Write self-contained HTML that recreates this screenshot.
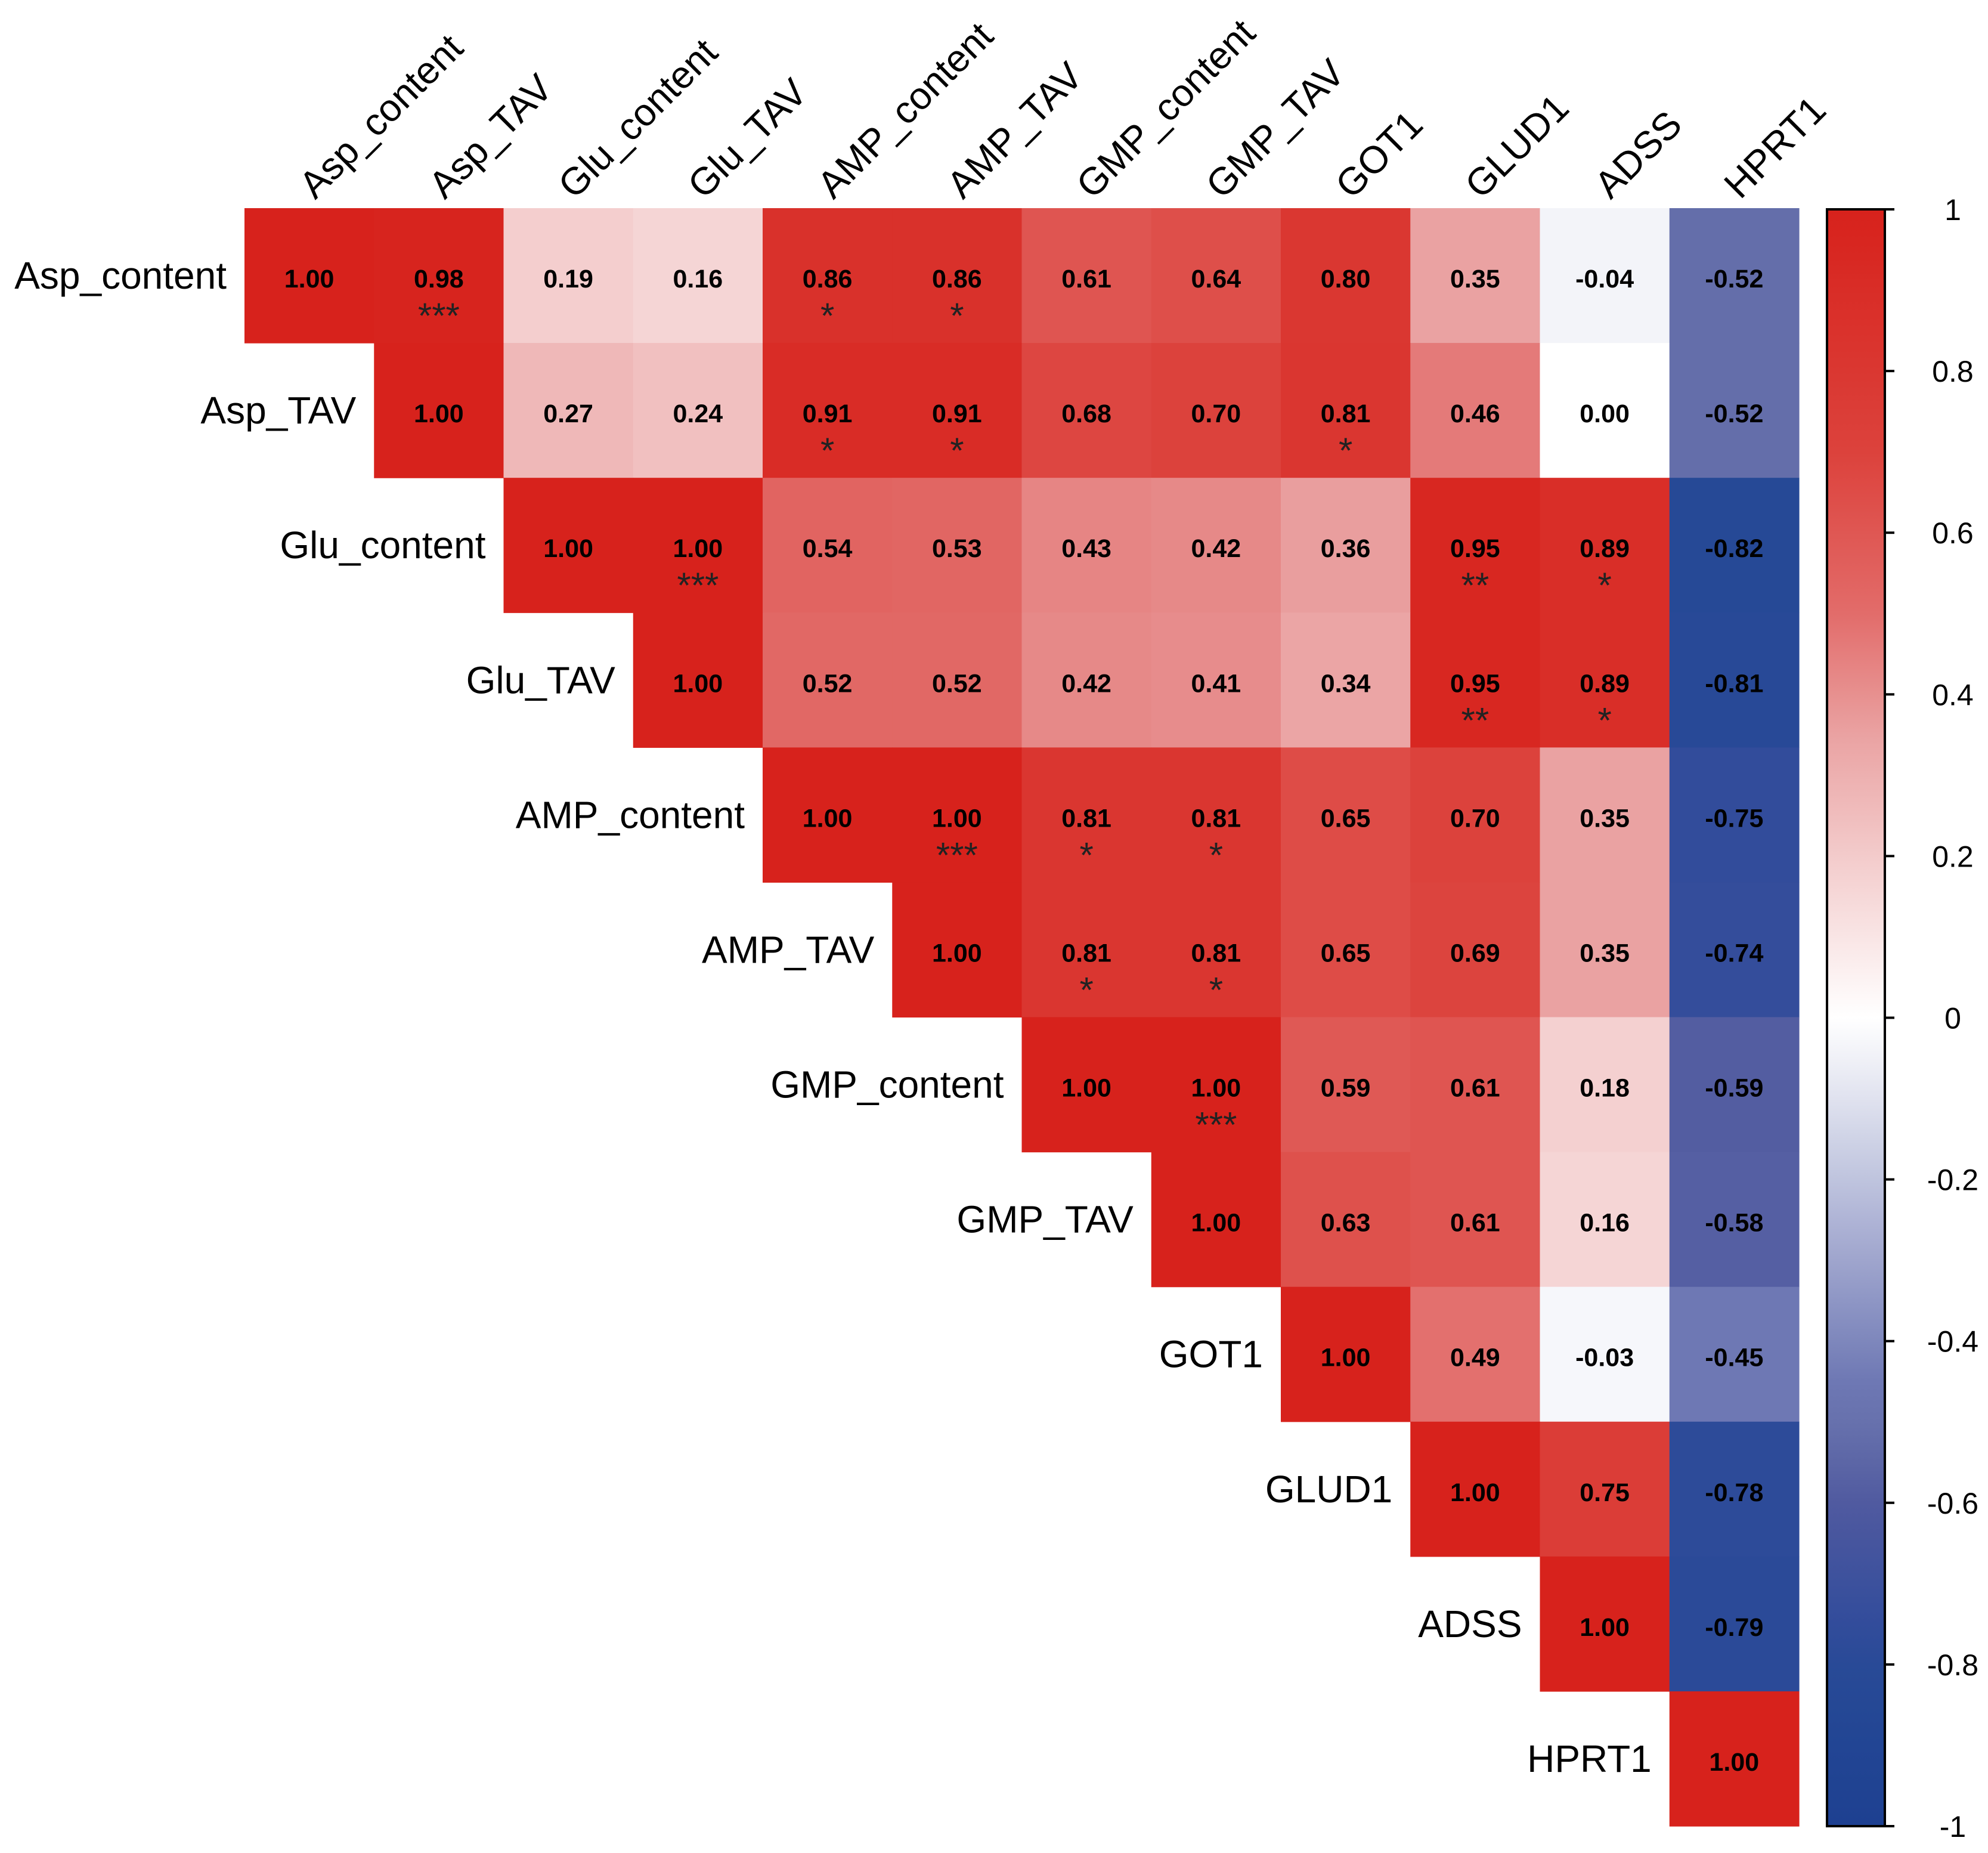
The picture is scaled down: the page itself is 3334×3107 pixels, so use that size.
<!DOCTYPE html>
<html><head><meta charset="utf-8"><style>
html,body{margin:0;padding:0;background:#fff}
svg{display:block}
</style></head><body>
<svg id="chart" width="3334" height="3107" viewBox="0 0 3334 3107" xmlns="http://www.w3.org/2000/svg">
<defs><linearGradient id="cbgrad" x1="0" y1="1" x2="0" y2="0"></linearGradient></defs>
<g id="cells"></g>
<g id="rowlabels"></g>
<g id="collabels"></g>
<g id="colorbar"></g>
</svg>
<script>
const variables = ["Asp_content","Asp_TAV","Glu_content","Glu_TAV","AMP_content","AMP_TAV","GMP_content","GMP_TAV","GOT1","GLUD1","ADSS","HPRT1"];
const corrRows = [
 [1.00,0.98,0.19,0.16,0.86,0.86,0.61,0.64,0.80,0.35,-0.04,-0.52],
 [1.00,0.27,0.24,0.91,0.91,0.68,0.70,0.81,0.46,0.00,-0.52],
 [1.00,1.00,0.54,0.53,0.43,0.42,0.36,0.95,0.89,-0.82],
 [1.00,0.52,0.52,0.42,0.41,0.34,0.95,0.89,-0.81],
 [1.00,1.00,0.81,0.81,0.65,0.70,0.35,-0.75],
 [1.00,0.81,0.81,0.65,0.69,0.35,-0.74],
 [1.00,1.00,0.59,0.61,0.18,-0.59],
 [1.00,0.63,0.61,0.16,-0.58],
 [1.00,0.49,-0.03,-0.45],
 [1.00,0.75,-0.78],
 [1.00,-0.79],
 [1.00]
];
const sigRows = [
 ["","***","","","*","*","","","","","",""],
 ["","","","*","*","","","*","","",""],
 ["","***","","","","","","**","*",""],
 ["","","","","","","**","*",""],
 ["","***","*","*","","","",""],
 ["","*","*","","","",""],
 ["","***","","",""],
 ["","","",""],
 ["","",""],
 ["",""],
 [""],
 [""]
];
const cbTicks = [1,0.8,0.6,0.4,0.2,0,-0.2,-0.4,-0.6,-0.8,-1];
const cbTickLabels = ["1","0.8","0.6","0.4","0.2","0","-0.2","-0.4","-0.6","-0.8","-1"];

const NS="http://www.w3.org/2000/svg";
const gx0=410, gx1=3017, gy0=349, gy1=3062, n=variables.length;
const cw=(gx1-gx0)/n, rh=(gy1-gy0)/n;
const xPos=j=>gx0+j*cw, yPos=i=>gy0+i*rh;
const posStops=[[0,[255,255,255]],[0.2,[243,203,203]],[0.35,[234,162,162]],[0.5,[226,108,106]],[0.7,[220,66,60]],[1,[215,34,28]]];
const negStops=[[0,[255,255,255]],[0.04,[243,244,249]],[0.45,[110,120,180]],[0.52,[100,110,170]],[0.6,[80,90,160]],[0.75,[50,76,155]],[0.82,[38,73,150]],[1,[30,64,145]]];
function color(v){
 const st=v>=0?posStops:negStops, a=Math.min(1,Math.abs(v));
 for(let k=1;k<st.length;k++){ if(a<=st[k][0]){const [p0,c0]=st[k-1],[p1,c1]=st[k];const t=(a-p0)/(p1-p0);
   return "rgb("+c0.map((c,q)=>Math.round(c+(c1[q]-c)*t)).join(",")+")";}}
 return "rgb("+st[st.length-1][1].join(",")+")";
}
function mk(tag,attrs,parent){const e=document.createElementNS(NS,tag);for(const k in attrs)e.setAttribute(k,attrs[k]);parent.appendChild(e);return e;}
const cells=document.getElementById('cells');
corrRows.forEach((row,i)=>{
 row.forEach((v,k)=>{
  const j=i+k;
  const r=mk('rect',{x:xPos(j),y:yPos(i),width:cw+0.6,height:rh+0.6,fill:color(v)},cells);
  
  
  const t=mk('text',{x:xPos(j)+cw/2,y:yPos(i)+rh/2+20,'text-anchor':'middle','font-family':'"Liberation Sans Narrow","Liberation Sans",sans-serif','font-weight':'bold','font-size':43,fill:'#000'},cells);
  t.textContent=v.toFixed(2);
  
  
  const s=sigRows[i][k];
  if(s){const st=mk('text',{x:xPos(j)+cw/2,y:yPos(i)+rh/2+88,'text-anchor':'middle','font-family':'"Liberation Sans",sans-serif','font-size':60,fill:'#222'},cells);
   st.textContent=s;
   
   }
 });
});
const rl=document.getElementById('rowlabels');
variables.forEach((name,i)=>{
 const t=mk('text',{x:xPos(i)-30,y:yPos(i)+rh/2+22,'text-anchor':'end','font-family':'"Liberation Sans",sans-serif','font-size':64,fill:'#000'},rl);
 t.textContent=name;
 
 
});
const cl=document.getElementById('collabels');
variables.forEach((name,j)=>{
 const x=xPos(j)+cw/2+10, y=336;
 const t=mk('text',{x:x,y:y,transform:'rotate(-45 '+x+' '+y+')','font-family':'"Liberation Sans",sans-serif','font-size':64,fill:'#000'},cl);
 t.textContent=name;
 
 
});
const grad=document.getElementById('cbgrad');
for(let k=0;k<=40;k++){const v=-1+k*0.05;mk('stop',{offset:(k/40),'stop-color':color(v)},grad);}
const cb=document.getElementById('colorbar');
const bx0=3064,bx1=3161,by0=351,by1=3062;
const cbY=v=>by0+(1-v)/2*(by1-by0);
const bar=mk('rect',{x:bx0,y:by0,width:bx1-bx0,height:by1-by0,fill:'url(#cbgrad)',stroke:'#000','stroke-width':4},cb);


cbTicks.forEach((v,k)=>{
 const y=cbY(v);
 const l=mk('line',{x1:bx1,x2:bx1+16,y1:y,y2:y,stroke:'#000','stroke-width':4},cb);
 
 
 const t=mk('text',{x:3275,y:y+18,'text-anchor':'middle','font-family':'"Liberation Sans",sans-serif','font-size':50,fill:'#000'},cb);
 t.textContent=cbTickLabels[k];
 
 
});
</script>
</body></html>
